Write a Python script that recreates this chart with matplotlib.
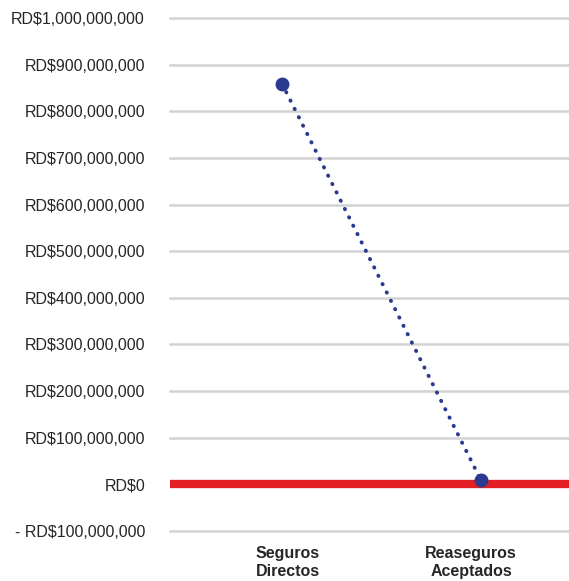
import matplotlib.pyplot as plt
from matplotlib.ticker import FuncFormatter

plt.rcParams["font.family"] = ["Liberation Sans", "DejaVu Sans"]

categorias = ["Seguros\nDirectos", "Reaseguros\nAceptados"]
valores = [859_000_000, 8_500_000]
ticks_y = list(range(-100_000_000, 1_000_000_001, 100_000_000))

NAVY = "#2b3a91"
ROJO = "#e31e24"
GRIS = "#d3d3d3"


def fmt_rd(v, _pos=None):
    if v < 0:
        return f"- RD${abs(v):,.0f}"
    return f"RD${v:,.0f}"


fig = plt.figure(figsize=(5.69, 5.81), dpi=100)
ax = fig.add_axes([170 / 569, 1 - 531 / 581, 1 - 170 / 569, (531 - 18) / 581])

# líneas de cuadrícula (sin recorte para que las de los extremos se vean enteras)
for y in ticks_y:
    if y != 0:
        ax.axhline(y, color=GRIS, linewidth=1.8, zorder=1, clip_on=False)
ax.axhline(0, color=ROJO, linewidth=6, zorder=2)

x = list(range(len(categorias)))
ax.plot(x, valores, color=NAVY, linewidth=2.8,
        linestyle=(0, (0.1, 2.3)), dash_capstyle="round", zorder=3)
ax.plot(x, valores, linestyle="none", marker="o", markersize=9,
        color=NAVY, zorder=4)

ax.set_ylim(-100_000_000, 1_000_000_000)
ax.set_xlim(-0.563, 1.442)
ax.set_yticks(ticks_y)
ax.yaxis.set_major_formatter(FuncFormatter(fmt_rd))
ax.set_xticks([0.03, 0.95])
ax.set_xticklabels(categorias, fontweight="bold", linespacing=1.25)

ax.tick_params(axis="y", length=0, pad=18, labelsize=11.5, colors="#262626")
ax.tick_params(axis="x", length=0, pad=11, labelsize=11.5, colors="#262626")
for s in ax.spines.values():
    s.set_visible(False)

fig.savefig("out.png", dpi=100)
